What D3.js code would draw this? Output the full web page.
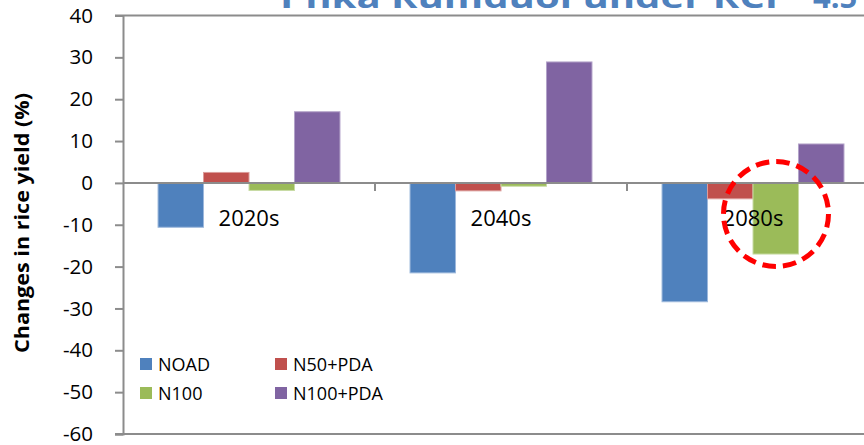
<!DOCTYPE html>
<html>
<head>
<meta charset="utf-8">
<script src="https://cdn.jsdelivr.net/npm/d3@7"></script>
<style>
  html, body { margin: 0; padding: 0; background: #fff; overflow: hidden; }
  svg { display: block; font-family: "Open Sans", "Noto Sans", sans-serif; }
</style>
</head>
<body>
<svg id="chart" width="864" height="445"></svg>
<script>
// Rice yield change per period and management option
const periods = ["2020s", "2040s", "2080s"];
const seriesNames = ["NOAD", "N50+PDA", "N100", "N100+PDA"];
const seriesColors = ["#4F81BD", "#C0504D", "#9BBB59", "#8064A2"];
const seriesEdges = ["#9DB9DC", "#DB9D9B", "#C8DBA4", "#B3A2C9"];
const noad = [-10.6, -21.5, -28.4];
const n50pda = [2.5, -1.9, -3.8];
const n100 = [-1.8, -0.8, -17.0];
const n100pda = [17.0, 28.9, 9.3];
const yTicks = [40, 30, 20, 10, 0, -10, -20, -30, -40, -50, -60];
const titleMain = "Phka Rumduol under RCP";
const titleTail = "4.5";
const yTitle = "Changes in rice yield (%)";

const allSeries = [noad, n50pda, n100, n100pda];

const svg = d3.select("#chart");
const plotLeft = 123, plotRight = 879, plotTop = 15.5, plotBottom = 434;

const y = d3.scaleLinear().domain([-60, 40]).range([plotBottom, plotTop]);
const x0 = d3.scaleBand().domain(periods).range([plotLeft, plotRight]).paddingInner(0.278).paddingOuter(0.139);
const x1 = d3.scaleBand().domain(d3.range(seriesNames.length)).range([0, x0.bandwidth()]);
const xCat = d3.scaleBand().domain(periods).range([plotLeft, plotRight]);

// Title (runs off the top edge)
const title = svg.append("text")
  .attr("x", 280).attr("y", 8)
  .attr("fill", "#4F81BD")
  .attr("font-weight", "bold")
  .attr("font-size", 31);
title.append("tspan").text(titleMain)
  .attr("textLength", 510).attr("lengthAdjust", "spacingAndGlyphs");
title.append("tspan").attr("x", 813).text(titleTail);

// Plot frame lines (top and bottom)
svg.append("line").attr("x1", 115).attr("x2", 864).attr("y1", plotTop).attr("y2", plotTop)
  .attr("stroke", "#8C8C8C").attr("stroke-width", 2);
svg.append("line").attr("x1", 115).attr("x2", 864).attr("y1", plotBottom).attr("y2", plotBottom)
  .attr("stroke", "#8C8C8C").attr("stroke-width", 2);

// Y axis (plain hyphen for negatives)
const yAxis = d3.axisLeft(y).tickValues(yTicks).tickSize(8).tickPadding(22)
  .tickFormat(d => String(d));
const gy = svg.append("g").attr("transform", `translate(${plotLeft},0)`).call(yAxis);
gy.select(".domain").attr("stroke", "#8C8C8C").attr("stroke-width", 2);
gy.selectAll(".tick line").attr("stroke", "#8C8C8C").attr("stroke-width", 2);
gy.selectAll(".tick text")
  .attr("font-family", "Open Sans, sans-serif")
  .attr("font-size", 20.5).attr("fill", "#000");

// Y axis title
svg.append("text")
  .attr("transform", `translate(29,223) rotate(-90)`)
  .attr("text-anchor", "middle")
  .attr("font-weight", "bold")
  .attr("font-size", 19.5)
  .attr("textLength", 260).attr("lengthAdjust", "spacingAndGlyphs")
  .text(yTitle);

// Bars
const groups = svg.append("g").selectAll("g")
  .data(periods).join("g")
  .attr("transform", d => `translate(${x0(d)},0)`);
groups.selectAll("rect")
  .data((d, i) => allSeries.map((s, k) => ({ k, v: s[i] })))
  .join("rect")
  .attr("x", d => x1(d.k))
  .attr("width", x1.bandwidth())
  .attr("y", d => y(Math.max(0, d.v)))
  .attr("height", d => Math.abs(y(d.v) - y(0)))
  .attr("fill", d => seriesColors[d.k])
  .attr("stroke", d => seriesEdges[d.k])
  .attr("stroke-width", 1);

// Zero axis with category ticks
svg.append("line").attr("x1", plotLeft).attr("x2", 864).attr("y1", y(0)).attr("y2", y(0))
  .attr("stroke", "#8C8C8C").attr("stroke-width", 2);
const catTicks = periods.slice(1).map(p => xCat(p));
svg.append("g").selectAll("line").data(catTicks).join("line")
  .attr("x1", d => d).attr("x2", d => d)
  .attr("y1", y(0)).attr("y2", y(0) + 8)
  .attr("stroke", "#8C8C8C").attr("stroke-width", 2);

// Category labels
svg.append("g").selectAll("text").data(periods).join("text")
  .attr("x", d => xCat(d) + xCat.bandwidth() / 2)
  .attr("y", 226)
  .attr("text-anchor", "middle")
  .attr("font-size", 22)
  .attr("fill", "#000")
  .text(d => d);

// Legend
const legend = svg.append("g");
const legPos = [[140, 358], [275, 358], [140, 387], [275, 387]];
seriesNames.forEach((name, k) => {
  const [lx, ly] = legPos[k];
  legend.append("rect").attr("x", lx).attr("y", ly).attr("width", 12).attr("height", 12)
    .attr("fill", seriesColors[k]);
  legend.append("text").attr("x", lx + 18).attr("y", ly + 12.5)
    .attr("font-size", 18).attr("fill", "#000").text(name);
});

// Highlight ring around the 2080s N100 bar
svg.append("circle")
  .attr("cx", 776).attr("cy", 214).attr("r", 52.5)
  .attr("fill", "none")
  .attr("stroke", "#FF0000")
  .attr("stroke-width", 5)
  .attr("stroke-dasharray", "13.6 7");
</script>
</body>
</html>
